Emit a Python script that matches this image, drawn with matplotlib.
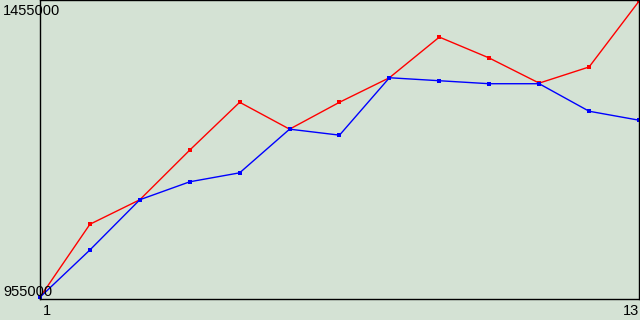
import matplotlib
matplotlib.use("Agg")
import matplotlib.pyplot as plt

# data
steps = list(range(1, 14))
red_vals = [958000, 1080000, 1121000, 1204000, 1284000, 1239000, 1284000,
            1325000, 1393000, 1358000, 1316000, 1343000, 1453000]
blue_vals = [958000, 1037000, 1121000, 1151000, 1166000, 1239000, 1229000,
             1325000, 1320000, 1315000, 1315000, 1269000, 1254000]
y_min, y_max = 955000, 1455000
y_labels = ["1455000", "955000"]
x_labels = ["1", "13"]

plt.rcParams['font.family'] = ['Liberation Sans', 'DejaVu Sans']

bg = "#d4e2d4"
fig = plt.figure(figsize=(6.4, 3.2), dpi=100, facecolor=bg)
W, H = 640, 320
ax = fig.add_axes([40 / W, 21 / H, 599 / W, 299 / H], facecolor=bg)

ax.plot(steps, red_vals, color="#ff0000", linewidth=1, marker="s",
        markersize=2.5, markeredgewidth=0, clip_on=False)
ax.plot(steps, blue_vals, color="#0000ff", linewidth=1, marker="s",
        markersize=2.5, markeredgewidth=0, clip_on=False)

ax.set_xlim(steps[0], steps[-1])
ax.set_ylim(y_min, y_max)
ax.set_xticks([])
ax.set_yticks([])
for s in ax.spines.values():
    s.set_color("black")
    s.set_linewidth(1)

# axis labels drawn over the frame like the original
fig.text(3 / W, 1 - 11 / H, y_labels[0], fontsize=10.5, va="center", ha="left")
fig.text(3 / W, 1 - 292 / H, y_labels[1], fontsize=10.5, va="center", ha="left")
fig.text(43 / W, 1 - 311 / H, x_labels[0], fontsize=10.5, va="center", ha="left")
fig.text(639 / W, 1 - 311 / H, x_labels[1], fontsize=10.5, va="center", ha="right")

fig.savefig("out.png", dpi=100, facecolor=bg)
